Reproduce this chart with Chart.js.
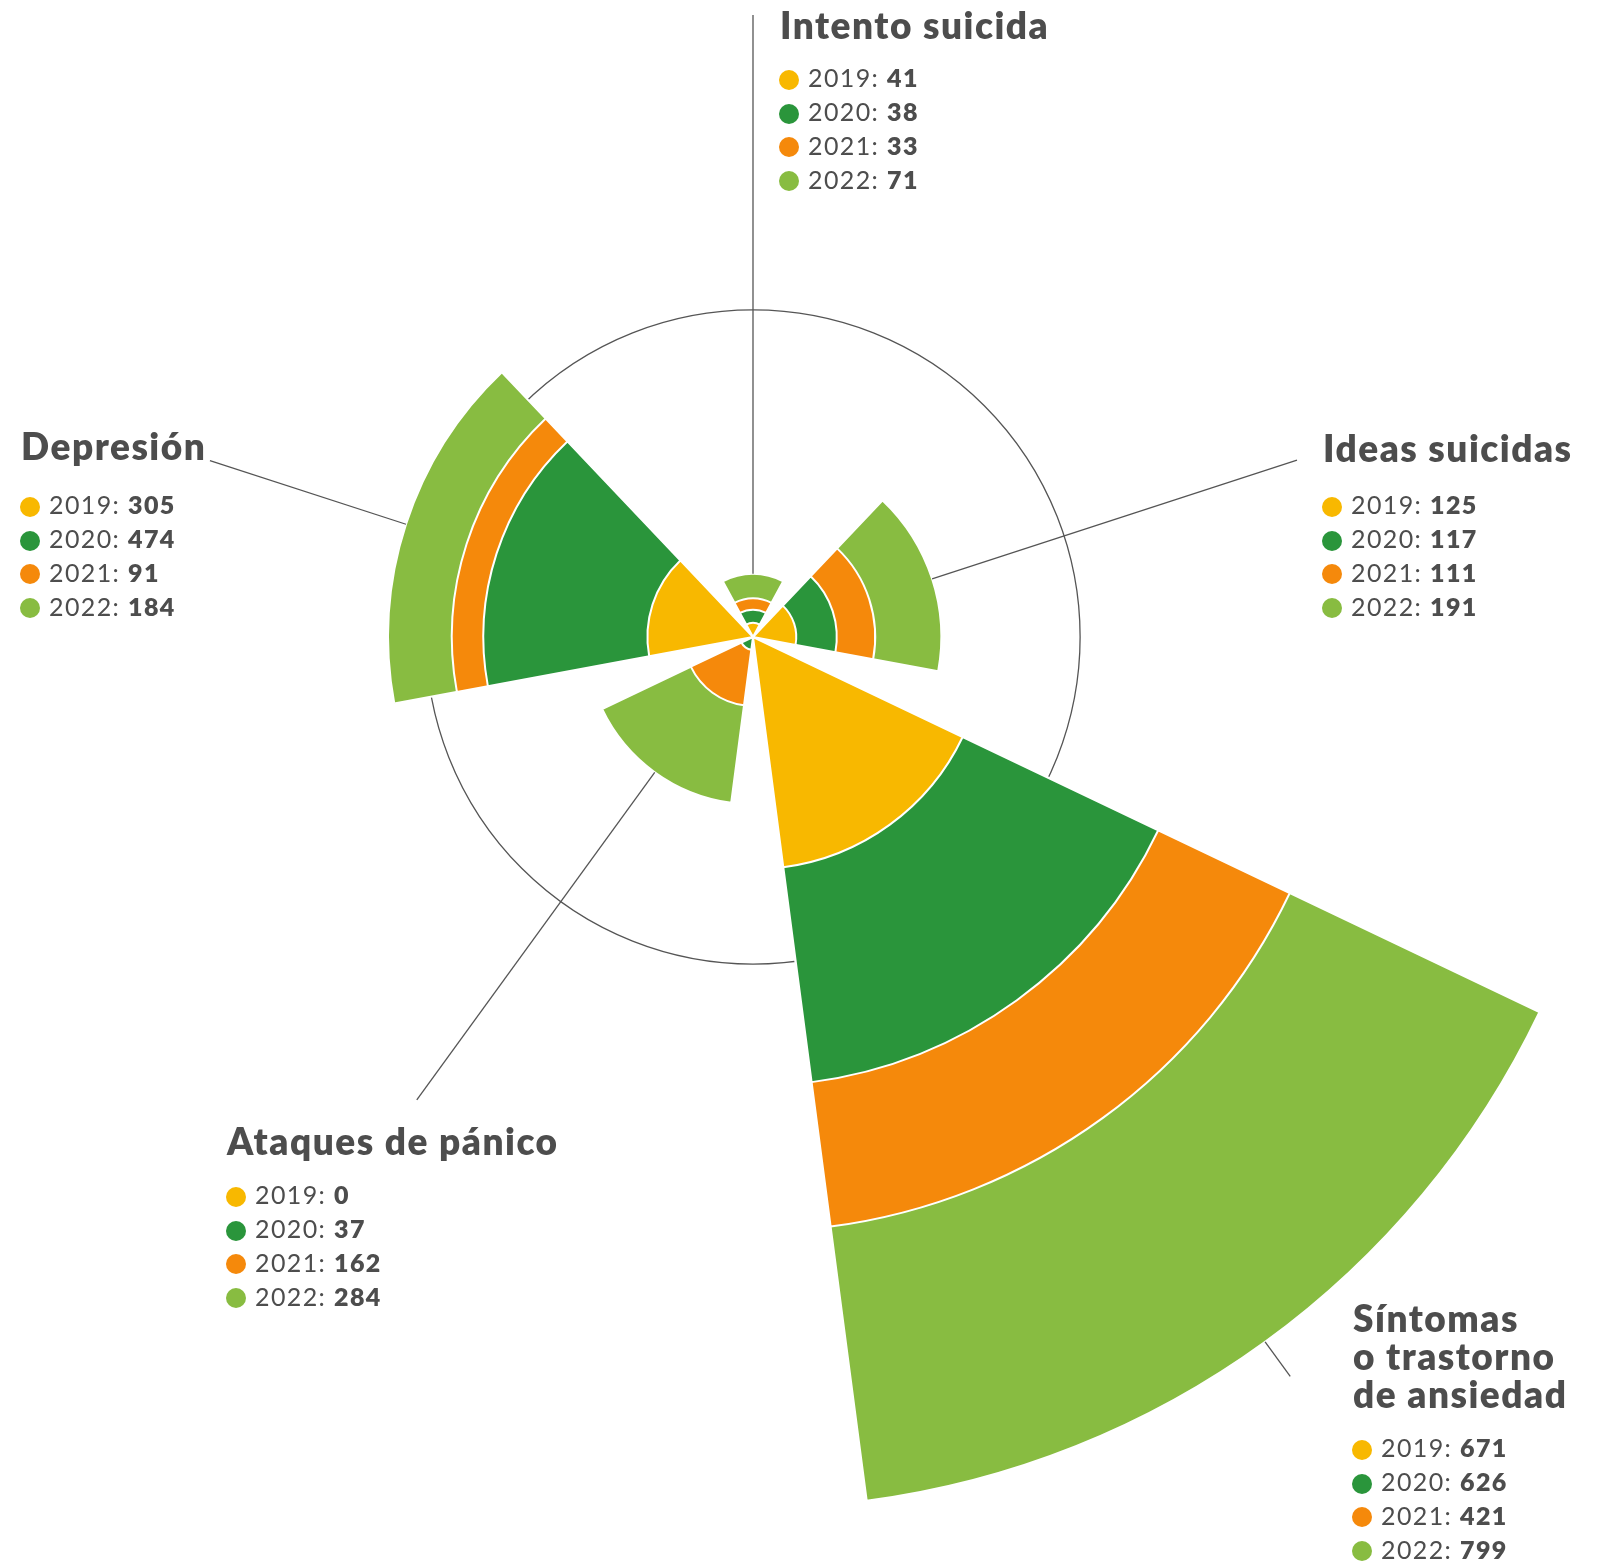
<!DOCTYPE html>
<html><head><meta charset="utf-8">
<script src="https://cdn.jsdelivr.net/npm/chart.js@4"></script>
<style>
html,body{margin:0;padding:0;width:1606px;height:1565px;overflow:hidden;background:#fff;}
#wrap{position:absolute;left:-147px;top:-263px;width:1800px;height:1800px;}
.t{position:absolute;white-space:nowrap;font-family:Lato,"DejaVu Sans",sans-serif;color:#4d4d4d;}
.title{font-weight:800;font-size:37px;line-height:38px;letter-spacing:1.5px;}
.row{font-size:25px;line-height:33.7px;font-weight:400;letter-spacing:1.4px;}
.row b{font-weight:800;}
.dot{position:absolute;width:20px;height:20px;border-radius:50%;}
</style></head><body>
<div id="wrap"><canvas id="c"></canvas></div>
<div id="labels"></div>
<script>
// ---- data ----
const categories = [["Intento suicida"], ["Ideas suicidas"], ["Síntomas", "o trastorno", "de ansiedad"], ["Ataques de pánico"], ["Depresión"]];
const years = ["2019", "2020", "2021", "2022"];
const v2019 = [41, 125, 671, 0, 305];
const v2020 = [38, 117, 626, 37, 474];
const v2021 = [33, 111, 421, 162, 91];
const v2022 = [71, 191, 799, 284, 184];
const GRID_RING = 945;
const SCALE_MAX = 2600;

// ---- style / layout ----
const colors = ["#F8B800", "#2A953B", "#F5890B", "#88BC41"];
const WEDGE_ANGLE = 57, GAP_ANGLE = 15;
const SPOKE_END = [622, 572, 914, 572, 571];
// [titleX, titleBaseline, legendX, firstLegendBaseline]
const LABEL_POS = [[780, 39, 779, 88], [1323, 462, 1322, 515], [1353, 1332, 1352, 1458], [227, 1155, 226, 1205], [21, 460, 20, 515]];

const series = [v2019, v2020, v2021, v2022];
// cumulative (stacked) values, interleaved with gap slots
const labels = [];
categories.forEach(c => { labels.push(c.join(" ")); labels.push(""); });
const datasets = series.map((s, k) => {
  const data = [];
  categories.forEach((c, i) => {
    let cum = 0;
    for (let j = 0; j <= k; j++) cum += series[j][i];
    data.push(cum);
    data.push(0);
  });
  return {
    label: years[k],
    data,
    backgroundColor: ctx => ctx.dataIndex % 2 === 0 ? colors[k] : "rgba(0,0,0,0)",
    borderColor: "#ffffff",
    borderWidth: ctx => ctx.dataIndex % 2 === 0 ? 2 : 0,
    angle: ctx => ctx.dataIndex % 2 === 0 ? WEDGE_ANGLE : GAP_ANGLE
  };
});

const spokePlugin = {
  id: "spokes",
  afterDatasetsDraw(chart) {
    const meta = chart.getDatasetMeta(chart.data.datasets.length - 1);
    const scale = chart.scales.r;
    const ctx = chart.ctx;
    ctx.save();
    ctx.strokeStyle = "#555555";
    ctx.lineWidth = 1.3;
    categories.forEach((c, i) => {
      const arc = meta.data[i * 2];
      const a = (arc.startAngle + arc.endAngle) / 2;
      const r0 = arc.outerRadius, r1 = SPOKE_END[i];
      ctx.beginPath();
      ctx.moveTo(scale.xCenter + Math.cos(a) * r0, scale.yCenter + Math.sin(a) * r0);
      ctx.lineTo(scale.xCenter + Math.cos(a) * r1, scale.yCenter + Math.sin(a) * r1);
      ctx.stroke();
    });
    ctx.restore();
  }
};

new Chart(document.getElementById("c"), {
  type: "polarArea",
  data: { labels, datasets },
  options: {
    responsive: true,
    maintainAspectRatio: false,
    animation: false,
    layout: { padding: 0 },
    plugins: { legend: { display: false }, tooltip: { enabled: false } },
    scales: {
      r: {
        min: 0,
        max: SCALE_MAX,
        startAngle: -WEDGE_ANGLE / 2,
        ticks: { display: false },
        afterBuildTicks: s => { s.ticks = [{ value: 0 }, { value: GRID_RING }]; },
        grid: { color: "#555555", lineWidth: 1.3, circular: true },
        angleLines: { display: false },
        pointLabels: { display: false }
      }
    }
  },
  plugins: [spokePlugin]
});

// ---- labels (HTML text) ----
const TITLE_B = (38 - 37 * 1.2) / 2 + 37 * 0.987;
const ROW_B = (33.7 - 25 * 1.2) / 2 + 25 * 0.987;
const host = document.getElementById("labels");
categories.forEach((c, i) => {
  const [tx, tb, lx, lb] = LABEL_POS[i];
  const t = document.createElement("div");
  t.className = "t title";
  t.style.left = tx + "px";
  t.style.top = (tb - TITLE_B) + "px";
  t.innerHTML = c.join("<br>");
  host.appendChild(t);
  series.forEach((s, k) => {
    const base = lb + k * 33.7;
    const d = document.createElement("div");
    d.className = "dot";
    d.style.left = lx + "px";
    d.style.top = (base - 8 - 10) + "px";
    d.style.background = colors[k];
    host.appendChild(d);
    const r = document.createElement("div");
    r.className = "t row";
    r.style.left = (lx + 29) + "px";
    r.style.top = (base - ROW_B) + "px";
    r.innerHTML = years[k] + ": <b>" + s[i] + "</b>";
    host.appendChild(r);
  });
});
</script>
</body></html>
